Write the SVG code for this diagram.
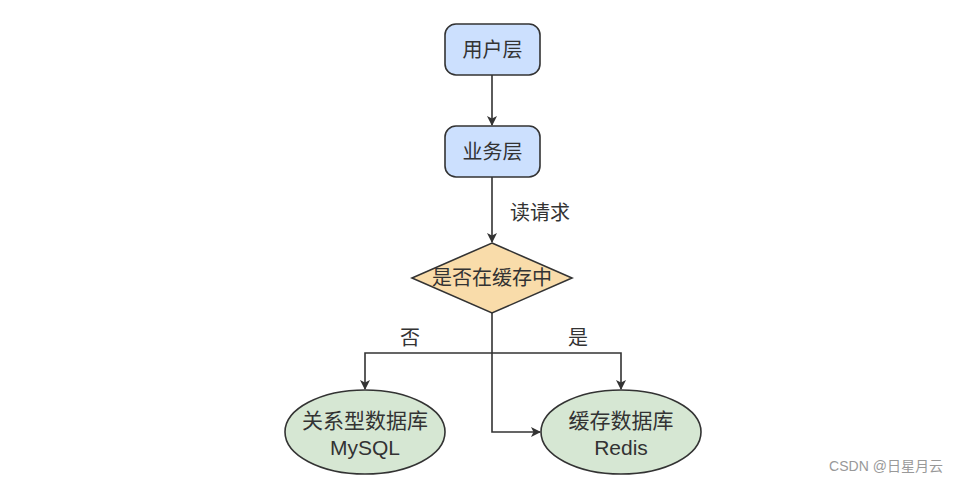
<svg xmlns="http://www.w3.org/2000/svg" width="954" height="484" viewBox="0 0 954 484">
<defs>
<style>
.n{stroke:#333;stroke-width:1.6}
.t{font-family:"Liberation Sans","Noto Sans CJK SC",sans-serif;font-size:20px;fill:#333;text-anchor:middle}
.e{font-size:21px}
.c{fill:none;stroke:#333;stroke-width:1.6}
</style>
<marker id="a" markerWidth="10" markerHeight="10" refX="9" refY="5" orient="auto" markerUnits="userSpaceOnUse">
<path d="M0,0 L10,5 L0,10 L2.5,5 Z" fill="#333"/>
</marker>
</defs>
<rect width="954" height="484" fill="#fff"/>
<g id="connectors">
<path class="c" d="M492,75 V125" marker-end="url(#a)"/>
<path class="c" d="M492,177 V242" marker-end="url(#a)"/>
<path class="c" d="M492,313 V432 H540" marker-end="url(#a)"/>
<path class="c" d="M492,353 H365 V389" marker-end="url(#a)"/>
<path class="c" d="M492,353 H621 V389" marker-end="url(#a)"/>
<text class="t" x="540" y="220">读请求</text>
<text class="t" x="410" y="345">否</text>
<text class="t" x="578" y="345">是</text>
</g>
<g id="user">
<rect class="n" x="445" y="24" width="95" height="51" rx="11" fill="#cce0fe"/>
<text class="t" x="492.5" y="57">用户层</text>
</g>
<g id="business">
<rect class="n" x="445" y="126" width="95" height="51" rx="11" fill="#cce0fe"/>
<text class="t" x="492.5" y="159">业务层</text>
</g>
<g id="decision">
<polygon class="n" points="492,243 572,278 492,313 412,278" fill="#f9dcaa"/>
<text class="t" x="492" y="285">是否在缓存中</text>
</g>
<g id="mysql">
<ellipse class="n" cx="365" cy="432" rx="80" ry="42" fill="#d6e7d3"/>
<text class="t e" x="365" y="428">关系型数据库</text>
<text class="t e" x="365" y="455">MySQL</text>
</g>
<g id="redis">
<ellipse class="n" cx="621" cy="432" rx="80" ry="42" fill="#d6e7d3"/>
<text class="t e" x="621" y="428">缓存数据库</text>
<text class="t e" x="621" y="455">Redis</text>
</g>
<text x="886" y="471" font-family="'Liberation Sans','Noto Sans CJK SC',sans-serif" font-size="14" fill="#999" text-anchor="middle">CSDN @日星月云</text>
</svg>
